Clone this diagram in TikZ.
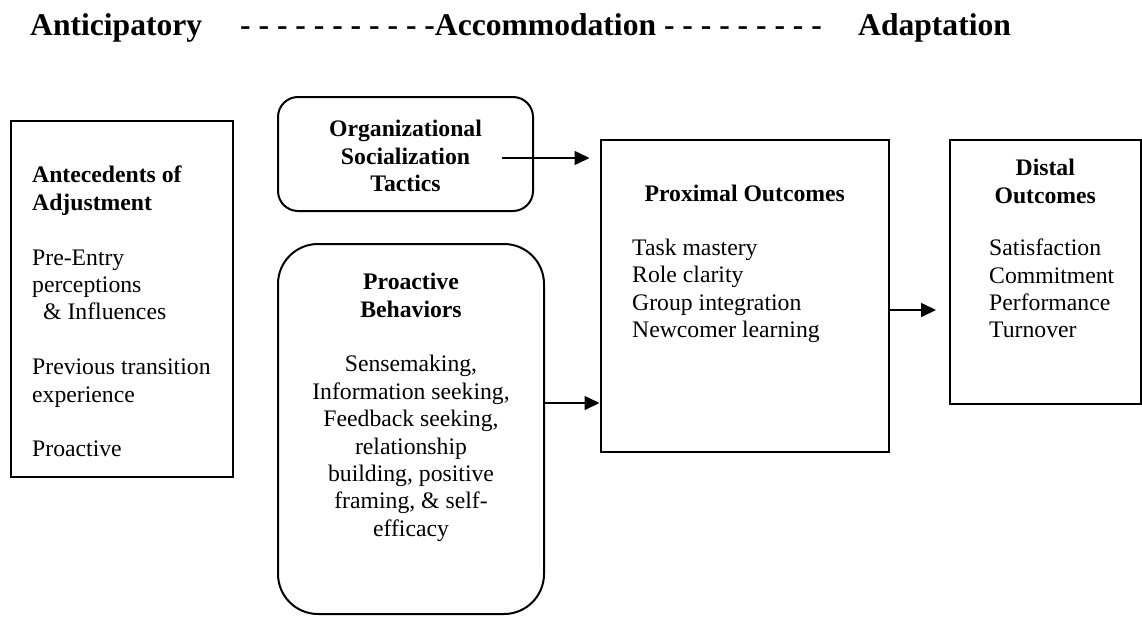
\documentclass[tikz,border=0pt]{standalone}
\usepackage{fontspec}
\setmainfont{Liberation Serif}
\usetikzlibrary{arrows.meta}

\tikzset{
	stagebox/.style={draw, line width=2pt, inner sep=0pt},
	roundbox/.style={stagebox, rounded corners=#1},
	flow/.style={line width=1.6pt, -{Triangle[length=15pt,width=14pt]}},
	bodytext/.style={inner sep=0pt, font=\fontsize{23.7}{27.4}\selectfont},
	headtext/.style={inner sep=0pt, font=\fontsize{23.7}{27.4}\selectfont\bfseries},
	stagetext/.style={inner sep=0pt, anchor=base west, font=\fontsize{31.6}{38}\selectfont\bfseries},
}

\begin{document}
\begin{tikzpicture}[x=1pt, y=-1pt]
		%%%%% START %%%%%
		\useasboundingbox (0, 0) rectangle (1142, 616);
		
		% stages
		\node[stagetext] (anticip) at (30, 35) {Anticipatory};
		\node[stagetext] (accomm) at (240, 35) {- - - - - - - - - - -Accommodation - - - - - - - - -};
		\node[stagetext] (adapt) at (858, 35) {Adaptation};
		
		% boxes
		\node[stagebox, minimum width=222pt, minimum height=356pt] (antec) at (122, 299) {};
		\node[roundbox=20pt, minimum width=255pt, minimum height=114pt] (orgtac) at (405.5, 154) {};
		\node[roundbox=40pt, minimum width=266pt, minimum height=370pt] (proact) at (411, 429) {};
		\node[stagebox, minimum width=288.5pt, minimum height=312pt] (prox) at (744.75, 296) {};
		\node[stagebox, minimum width=190.5pt, minimum height=264pt] (dist) at (1045.25, 272) {};
		
		% texts
		\node[bodytext, anchor=north west, align=left] (antectext) at (32, 166) {\textbf{Antecedents of}\\ \textbf{Adjustment}\\[27.4pt] Pre-Entry\\ perceptions\\ \hspace*{11pt}\& Influences\\[27.4pt] Previous transition\\ experience\\[27.4pt] Proactive};
		\node[headtext, anchor=north, align=center] (orgtext) at (405.5, 120.3) {Organizational\\ Socialization\\ Tactics};
		\node[bodytext, anchor=north, align=center] (proacttext) at (411, 273) {\textbf{Proactive}\\ \textbf{Behaviors}\\[27.4pt] Sensemaking,\\ Information seeking,\\ Feedback seeking,\\ relationship\\ building, positive\\ framing, \& self-\\ efficacy};
		\node[headtext, anchor=base] (proxhead) at (744.75, 201) {Proximal Outcomes};
		\node[bodytext, anchor=north west, align=left] (proxtext) at (632, 238.8) {Task mastery\\ Role clarity\\ Group integration\\ Newcomer learning};
		\node[headtext, anchor=north, align=center] (disthead) at (1045.25, 159) {Distal\\ Outcomes};
		\node[bodytext, anchor=north west, align=left] (disttext) at (989, 238.8) {Satisfaction\\ Commitment\\ Performance\\ Turnover};
		
		% arrows
		\coordinate (orgout) at (502, 158);
		\draw[flow, shorten >=10pt] (orgout) -- (orgout -| prox.west);
		\draw[flow] (proact.east |- 0, 403) -- (prox.west |- 0, 403);
		\draw[flow, shorten >=13pt] (prox.east |- 0, 310) -- (dist.west |- 0, 310);
		
		%%%%% END %%%%%
\end{tikzpicture}
\end{document}
